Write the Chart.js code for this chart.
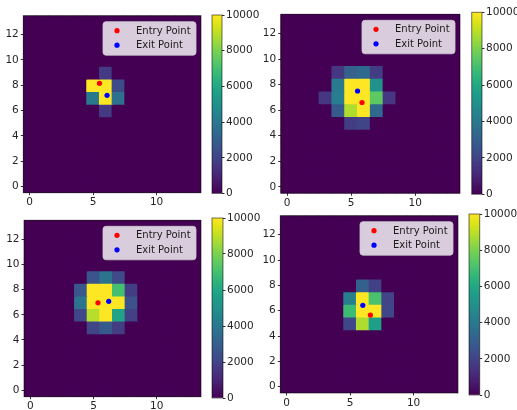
<!DOCTYPE html>
<html>
<head>
<meta charset="utf-8">
<script src="https://cdn.jsdelivr.net/npm/chart.js@4.4.0/dist/chart.umd.min.js"></script>
<style>
  html, body { margin: 0; padding: 0; background: #fff; }
  #wrap { position: relative; width: 517px; height: 410px; overflow: hidden; }
  canvas { position: absolute; }
</style>
</head>
<body>
<div id="wrap"></div>
<script>
// ---- data ----
const gridSize = 14;
const xTicks = [0, 5, 10];
const yTicks = [0, 2, 4, 6, 8, 10, 12];
const cbarTicks = [0, 2000, 4000, 6000, 8000, 10000];
const legendLabels = ["Entry Point", "Exit Point"];

// [x, y, count] of the non empty cells, every other cell is 0
const cells1 = [
    [6, 9, 1700],
    [5, 8, 10000], [6, 8, 10000], [7, 8, 2300],
    [5, 7, 4000], [6, 7, 10000], [7, 7, 3700],
    [6, 6, 1700]
];
const entry1 = [5.5, 8.15];
const exit1 = [6.1, 7.2];

const cells2 = [
    [4, 9, 1600], [5, 9, 3100], [6, 9, 3400], [7, 9, 1800],
    [4, 8, 4100], [5, 8, 10000], [6, 8, 10000], [7, 8, 5000],
    [3, 7, 1600], [4, 7, 4200], [5, 7, 10000], [6, 7, 10000], [7, 7, 7500], [8, 7, 1600],
    [4, 6, 2800], [5, 6, 8800], [6, 6, 10000], [7, 6, 3400],
    [5, 5, 1800], [6, 5, 2000]
];
const entry2 = [5.85, 6.6];
const exit2 = [5.5, 7.5];

const cells3 = [
    [5, 9, 2600], [6, 9, 3800], [7, 9, 2200],
    [4, 8, 2700], [5, 8, 10000], [6, 8, 10000], [7, 8, 7000], [8, 8, 1800],
    [4, 7, 3800], [5, 7, 10000], [6, 7, 10000], [7, 7, 10000], [8, 7, 2500],
    [4, 6, 2100], [5, 6, 8900], [6, 6, 10000], [7, 6, 5800], [8, 6, 1900],
    [5, 5, 2000], [6, 5, 2800], [7, 5, 1800]
];
const entry3 = [5.35, 6.95];
const exit3 = [6.2, 7.07];

const cells4 = [
    [6, 8, 3000], [7, 8, 1900],
    [5, 7, 4300], [6, 7, 10000], [7, 7, 7100], [8, 7, 2000],
    [5, 6, 6800], [6, 6, 10000], [7, 6, 10000], [8, 6, 2100],
    [5, 5, 2100], [6, 5, 8800], [7, 5, 5600]
];
const entry4 = [6.6, 5.65];
const exit4 = [6.0, 6.42];

// ---- layout (pixel boxes of plot area and colorbar) ----
const panels = [
    { cells: cells1, entry: entry1, exit: exit1, plot: { l: 23.3, t: 15.7, r: 201, b: 192.7 }, cbar: { l: 212, t: 15, r: 222, b: 193.5 } },
    { cells: cells2, entry: entry2, exit: exit2, plot: { l: 280.7, t: 14.3, r: 460, b: 193.3 }, cbar: { l: 471.7, t: 12.3, r: 482, b: 194.3 } },
    { cells: cells3, entry: entry3, exit: exit3, plot: { l: 24, t: 220, r: 201, b: 396.7 }, cbar: { l: 212, t: 218, r: 223, b: 398 } },
    { cells: cells4, entry: entry4, exit: exit4, plot: { l: 280.3, t: 215.7, r: 458, b: 393 }, cbar: { l: 469, t: 214, r: 479.7, b: 395 } }
];

// viridis colormap stops (0, 0.05, ... 1)
const viridisStops = ["#440154", "#471365", "#482475", "#463480", "#414487", "#3b528b", "#355f8d",
    "#2f6c8e", "#2a788e", "#25848e", "#21918c", "#1e9c89", "#22a884", "#2fb47c", "#44bf70",
    "#5ec962", "#7ad151", "#9bd93c", "#bddf26", "#dfe318", "#fde725"];

Chart.defaults.font.family = "'DejaVu Sans', sans-serif";
const tickFont = { size: 10.5 };
const tickColor = "#262626";
const vmax = cbarTicks[cbarTicks.length - 1];

function hexRgb(h) {
    return [parseInt(h.substr(1, 2), 16), parseInt(h.substr(3, 2), 16), parseInt(h.substr(5, 2), 16)];
}

function viridis(t) {
    t = Math.max(0, Math.min(1, t));
    const f = t * (viridisStops.length - 1);
    const i = Math.min(Math.floor(f), viridisStops.length - 2);
    const k = f - i;
    const a = hexRgb(viridisStops[i]), b = hexRgb(viridisStops[i + 1]);
    const c = a.map((v, j) => Math.round(v + (b[j] - v) * k));
    return `rgb(${c[0]}, ${c[1]}, ${c[2]})`;
}

// full 14x14 grid as floating bars
function buildGrid(cells) {
    const lookup = {};
    cells.forEach(c => { lookup[c[0] + "," + c[1]] = c[2]; });
    let out = [];
    for (let y = 0; y < gridSize; y++) {
        for (let x = 0; x < gridSize; x++) {
            out.push({ x: x, y: [y - 0.5, y + 0.5], v: lookup[x + "," + y] || 0 });
        }
    }
    return out;
}

// dark base under the cells so the anti-aliased seams don't show
const plotBg = {
    id: 'plotBg',
    beforeDatasetsDraw(chart) {
        const a = chart.chartArea, ctx = chart.ctx;
        ctx.save();
        ctx.fillStyle = viridis(0);
        ctx.fillRect(a.left, a.top, a.right - a.left, a.bottom - a.top);
        ctx.restore();
    }
};

// axes frame (spines)
const frame = {
    id: 'frame',
    afterDatasetsDraw(chart) {
        const a = chart.chartArea, ctx = chart.ctx;
        ctx.save();
        ctx.strokeStyle = "rgba(0,0,0,0.55)";
        ctx.lineWidth = 1;
        ctx.strokeRect(a.left, a.top, a.right - a.left, a.bottom - a.top);
        ctx.restore();
    }
};

// legend box inside the plot, upper right
const legendBox = {
    id: 'legendBox',
    afterDraw(chart) {
        const ctx = chart.ctx, a = chart.chartArea;
        const items = chart.data.datasets.filter(d => d.type === 'scatter');
        const w = 93, h = 33.5;
        const x0 = a.right - 5 - w, y0 = a.top + 6;
        ctx.save();
        ctx.beginPath();
        ctx.roundRect(x0, y0, w, h, 3);
        ctx.fillStyle = "rgba(255,255,255,0.8)";
        ctx.fill();
        ctx.strokeStyle = "rgba(204,204,204,0.8)";
        ctx.lineWidth = 1;
        ctx.stroke();
        ctx.font = "10px 'DejaVu Sans'";
        ctx.textBaseline = "middle";
        items.forEach((d, i) => {
            const cy = y0 + 9 + i * 14.5;
            ctx.beginPath();
            ctx.arc(x0 + 14, cy, 2.6, 0, Math.PI * 2);
            ctx.fillStyle = d.backgroundColor;
            ctx.fill();
            ctx.fillStyle = "#1a1a1a";
            ctx.fillText(d.label, x0 + 33, cy + 0.5);
        });
        ctx.restore();
    }
};

function addCanvas(l, t, w, h) {
    const cv = document.createElement('canvas');
    cv.width = w; cv.height = h;
    cv.style.left = l + "px"; cv.style.top = t + "px";
    cv.style.width = w + "px"; cv.style.height = h + "px";
    document.getElementById('wrap').appendChild(cv);
    return cv;
}

function heatmap(p) {
    const cl = Math.floor(p.plot.l) - 26, ct = Math.floor(p.plot.t) - 8;
    const cw = Math.ceil(p.plot.r) + 6 - cl, ch = Math.ceil(p.plot.b) + 18 - ct;
    const cv = addCanvas(cl, ct, cw, ch);
    new Chart(cv, {
        type: 'bar',
        data: {
            datasets: [
                {
                    type: 'scatter', label: legendLabels[0], order: 0,
                    data: [{ x: p.entry[0], y: p.entry[1] }],
                    backgroundColor: "#ff0000", borderWidth: 0, pointRadius: 2.6
                },
                {
                    type: 'scatter', label: legendLabels[1], order: 1,
                    data: [{ x: p.exit[0], y: p.exit[1] }],
                    backgroundColor: "#0000ff", borderWidth: 0, pointRadius: 2.6
                },
                {
                    type: 'bar', label: 'count', order: 10,
                    data: buildGrid(p.cells),
                    backgroundColor: ctx => viridis((ctx.raw ? ctx.raw.v : 0) / vmax),
                    borderWidth: 0, barPercentage: 1, categoryPercentage: 1, inflateAmount: 0.5
                }
            ]
        },
        options: {
            responsive: false, animation: false, events: [],
            layout: { padding: { top: p.plot.t - ct, right: cl + cw - p.plot.r, left: 0, bottom: 0 } },
            plugins: { legend: { display: false }, tooltip: { enabled: false } },
            scales: {
                x: {
                    type: 'linear', min: -0.5, max: gridSize - 0.5, offset: false,
                    afterBuildTicks: s => { s.ticks = xTicks.map(v => ({ value: v })); },
                    afterFit: s => { s.height = ct + ch - p.plot.b; },
                    grid: { offset: false, drawOnChartArea: false, tickLength: 2.5, color: "#333" },
                    border: { display: false },
                    ticks: { font: tickFont, color: tickColor, padding: 1, maxRotation: 0, callback: v => String(v) }
                },
                y: {
                    type: 'linear', min: -0.5, max: gridSize - 0.5,
                    afterBuildTicks: s => { s.ticks = yTicks.map(v => ({ value: v })); },
                    afterFit: s => { s.width = p.plot.l - cl; },
                    grid: { offset: false, drawOnChartArea: false, tickLength: 2.5, color: "#333" },
                    border: { display: false },
                    ticks: { font: tickFont, color: tickColor, padding: 2, callback: v => String(v) }
                }
            }
        },
        plugins: [plotBg, frame, legendBox]
    });
}

function colorbar(p) {
    const cl = Math.floor(p.cbar.l) - 2, ct = Math.floor(p.cbar.t) - 8;
    const cw = 517 - cl, ch = Math.ceil(p.cbar.b) + 8 - ct;
    const cv = addCanvas(cl, ct, cw, ch);
    new Chart(cv, {
        type: 'bar',
        data: {
            labels: ['cbar'],
            datasets: [{
                data: [vmax],
                backgroundColor: ctx => {
                    const a = ctx.chart.chartArea;
                    if (!a) return viridis(0.5);
                    const g = ctx.chart.ctx.createLinearGradient(0, a.bottom, 0, a.top);
                    viridisStops.forEach((c, i) => g.addColorStop(i / (viridisStops.length - 1), c));
                    return g;
                },
                borderWidth: 0, barPercentage: 1, categoryPercentage: 1
            }]
        },
        options: {
            responsive: false, animation: false, events: [],
            layout: { padding: { top: p.cbar.t - ct, bottom: ct + ch - p.cbar.b, left: p.cbar.l - cl, right: 0 } },
            plugins: { legend: { display: false }, tooltip: { enabled: false } },
            scales: {
                x: { display: false },
                y: {
                    position: 'right', min: 0, max: vmax,
                    afterBuildTicks: s => { s.ticks = cbarTicks.map(v => ({ value: v })); },
                    afterFit: s => { s.width = cl + cw - p.cbar.r; },
                    grid: { drawOnChartArea: false, tickLength: 2.5, color: "#333" },
                    border: { display: false },
                    ticks: { font: tickFont, color: tickColor, padding: 1.5, callback: v => String(v) }
                }
            }
        },
        plugins: [frame]
    });
}

panels.forEach(p => {
    heatmap(p);
    colorbar(p);
});
</script>
</body>
</html>
